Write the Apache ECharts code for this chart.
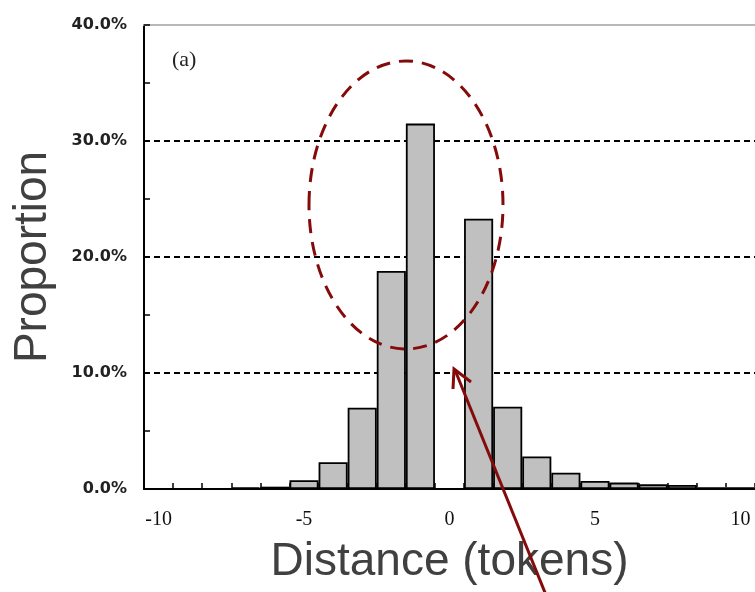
<!DOCTYPE html>
<html>
<head>
<meta charset="utf-8">
<script src="https://cdn.jsdelivr.net/npm/echarts@6/dist/echarts.min.js"></script>
<style>
html,body{margin:0;padding:0;background:#fff;}
#chart{width:755px;height:592px;}
</style>
</head>
<body>
<div id="chart"></div>
<script>
const categories = ['-10','-9','-8','-7','-6','-5','-4','-3','-2','-1','0','1','2','3','4','5','6','7','8','9','10'];
const proportions = [0, 0, 0, 0.15, 0.2, 0.75, 2.3, 7.0, 18.8, 31.5, 0, 23.3, 7.1, 2.8, 1.4, 0.7, 0.55, 0.4, 0.35, 0.15, 0.15];
const yTicks = [0, 10, 20, 30, 40];
const panelLabel = '(a)';
const xTitle = 'Distance (tokens)';
const yTitle = 'Proportion';

const chart = echarts.init(document.getElementById('chart'), null, {renderer: 'canvas'});
const red = '#850b0b';
const option = {
  animation: false,
  backgroundColor: '#ffffff',
  grid: {left: 144, top: 25, width: 615, height: 464, containLabel: false},
  xAxis: [{
    type: 'category',
    data: categories,
    position: 'bottom',
    boundaryGap: true,
    axisLine: {show: true, onZero: false, lineStyle: {color: '#000', width: 2}},
    axisTick: {show: true, inside: true, length: 6, alignWithLabel: false, interval: 0, lineStyle: {color: '#000', width: 1.5}},
    axisLabel: {interval: 4, margin: 21, fontFamily: 'Liberation Serif', fontSize: 20, color: '#111'},
    splitLine: {show: false},
    name: xTitle,
    nameLocation: 'middle',
    nameGap: 50,
    nameTextStyle: {fontFamily: 'Liberation Sans', fontSize: 46, color: '#404040'}
  }, {
    type: 'category',
    data: categories,
    position: 'top',
    axisLine: {show: true, onZero: false, lineStyle: {color: '#b8b8b8', width: 2}},
    axisTick: {show: false},
    axisLabel: {show: false},
    splitLine: {show: false}
  }],
  yAxis: [{
    type: 'value',
    min: yTicks[0],
    max: yTicks[yTicks.length - 1],
    interval: 10,
    axisLine: {show: true, lineStyle: {color: '#000', width: 2}},
    axisTick: {show: true, inside: true, length: 6, lineStyle: {color: '#000', width: 1.5}},
    axisLabel: {
      margin: 17,
      fontFamily: 'DejaVu Sans',
      fontWeight: 'bold',
      fontSize: 16,
      color: '#222',
      formatter: v => v.toFixed(1) + '%'
    },
    splitLine: {
      show: true,
      showMinLine: false,
      showMaxLine: false,
      lineStyle: {color: '#000', width: 2, type: [6, 4]}
    },
    name: yTitle,
    nameLocation: 'middle',
    nameRotate: 90,
    nameGap: 88,
    nameTextStyle: {fontFamily: 'Liberation Sans', fontSize: 46, color: '#404040'}
  }, {
    type: 'value',
    position: 'left',
    offset: 0,
    min: yTicks[0],
    max: yTicks[yTicks.length - 1],
    interval: 5,
    axisLine: {show: false},
    axisTick: {show: true, inside: true, length: 6, lineStyle: {color: '#000', width: 1.5}},
    axisLabel: {show: false},
    splitLine: {show: false}
  }],
  series: [{
    type: 'bar',
    data: proportions,
    barCategoryGap: '0%',
    itemStyle: {color: '#c0c0c0', borderColor: '#000', borderWidth: 1.8},
    z: 3
  }],
  graphic: [
    {
      type: 'text',
      left: 172, top: 49,
      style: {text: panelLabel, font: '22px "Liberation Serif"', fill: '#222'}
    },
    {
      type: 'ellipse',
      shape: {cx: 406, cy: 205, rx: 97, ry: 144},
      style: {fill: 'none', stroke: red, lineWidth: 3, lineDash: [14, 9]},
      z: 100
    },
    {
      type: 'line',
      shape: {x1: 548, y1: 600, x2: 455, y2: 370},
      style: {stroke: red, lineWidth: 3},
      z: 100
    },
    {
      type: 'polyline',
      shape: {points: [[453, 389], [454, 369], [471, 382]]},
      style: {stroke: red, lineWidth: 3, fill: 'none'},
      z: 100
    }
  ]
};
chart.setOption(option);
</script>
</body>
</html>
